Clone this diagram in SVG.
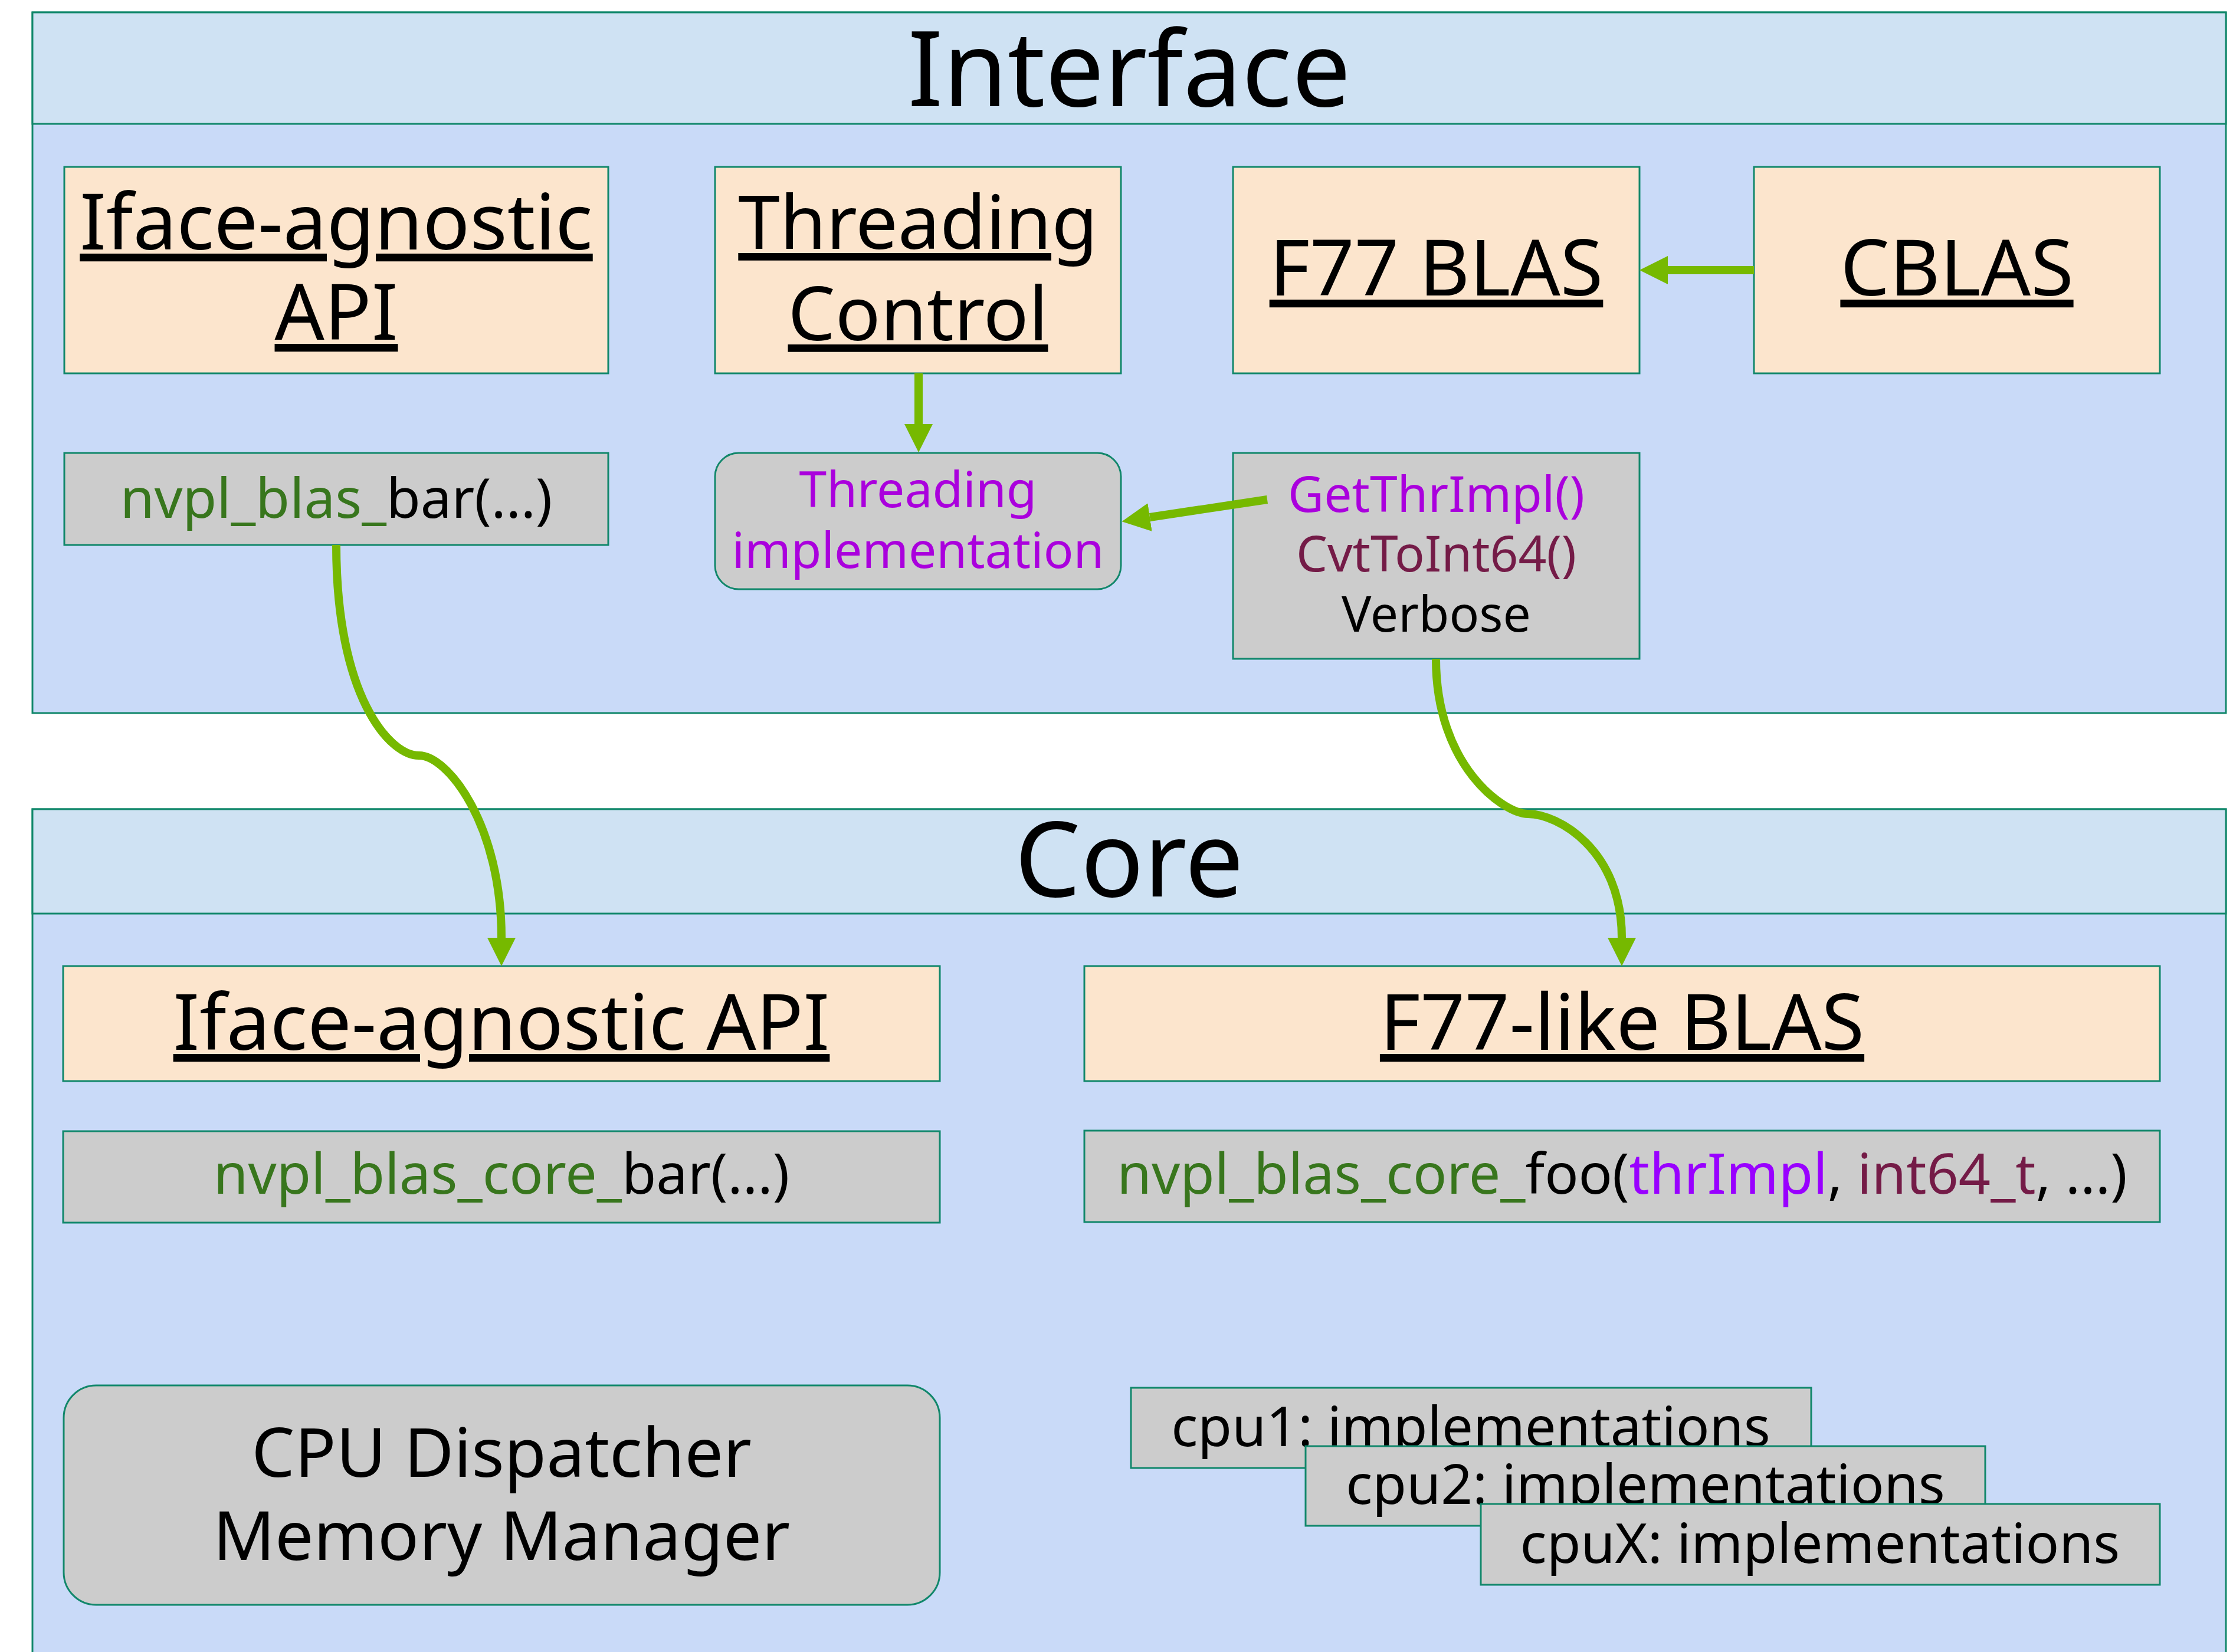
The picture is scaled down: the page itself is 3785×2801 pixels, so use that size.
<svg xmlns="http://www.w3.org/2000/svg" width="3785" height="2801" viewBox="0 0 3785 2801">
<style>
.panel{fill:#c9daf8;stroke:#11876b;stroke-width:3}
.phead{fill:#cfe2f3;stroke:#11876b;stroke-width:3}
.peach{fill:#fce5cd;stroke:#11876b;stroke-width:3}
.grey{fill:#cccccc;stroke:#11876b;stroke-width:3}
text{font-family:"Noto Sans","Liberation Sans",sans-serif;text-anchor:middle;fill:#000}
.title{font-size:177px}
.big{font-size:132px;text-decoration:underline}
.mid{font-size:94px}
.sm{font-size:84px}
.cpu{font-size:94px}
.disp{font-size:116px}
.g{fill:#38761d}
.p{fill:#aa00dd}
.v{fill:#9900ff}
.m{fill:#741b47}
.conn{fill:none;stroke:#76b900;stroke-width:14}
</style>
<defs>
<marker id="ah" markerUnits="userSpaceOnUse" markerWidth="48" markerHeight="48" refX="0" refY="24" orient="auto" viewBox="0 0 48 48">
<path d="M0,0 L48,24 L0,48 z" fill="#76b900"/>
</marker>
</defs>
<rect width="3785" height="2801" fill="#ffffff"/>
<g id="interface-panel">
<rect class="panel" x="55" y="21" width="3718" height="1188"/>
<rect class="phead" x="55" y="21" width="3718" height="189"/>
<text class="title" x="1914" y="180">Interface</text>
</g>
<g id="core-panel">
<rect class="panel" x="55" y="1372" width="3718" height="1460"/>
<rect class="phead" x="55" y="1372" width="3718" height="177"/>
<text class="title" x="1914" y="1520">Core</text>
</g>
<g id="iface-agnostic-api">
<rect class="peach" x="109" y="283" width="922" height="350"/>
<text class="big" x="570" y="423">Iface-agnostic</text>
<text class="big" x="570" y="576">API</text>
</g>
<g id="threading-control">
<rect class="peach" x="1212" y="283" width="688" height="350"/>
<text class="big" x="1556" y="422" style="font-size:127px">Threading</text>
<text class="big" x="1556" y="577" style="font-size:127px">Control</text>
</g>
<g id="f77-blas">
<rect class="peach" x="2090" y="283" width="689" height="350"/>
<text class="big" x="2434.5" y="501">F77 BLAS</text>
</g>
<g id="cblas">
<rect class="peach" x="2973" y="283" width="688" height="350"/>
<text class="big" x="3317" y="501">CBLAS</text>
</g>
<g id="nvpl-blas-bar">
<rect class="grey" x="109" y="768" width="922" height="156"/>
<text class="mid" x="570" y="878"><tspan class="g">nvpl_blas_</tspan>bar(...)</text>
</g>
<g id="threading-implementation">
<rect class="grey" x="1212" y="768" width="688" height="231" rx="40" ry="40"/>
<text class="sm p" x="1556" y="860">Threading</text>
<text class="sm p" x="1556" y="963">implementation</text>
</g>
<g id="getthrimpl">
<rect class="grey" x="2090" y="768" width="689" height="349"/>
<text class="sm p" x="2434.5" y="868">GetThrImpl()</text>
<text class="sm m" x="2434.5" y="969">CvtToInt64()</text>
<text class="sm" x="2434.5" y="1071">Verbose</text>
</g>
<g id="core-iface-agnostic-api">
<rect class="peach" x="107" y="1638" width="1486" height="195"/>
<text class="big" x="850" y="1780">Iface-agnostic API</text>
</g>
<g id="f77-like-blas">
<rect class="peach" x="1838" y="1638" width="1823" height="195"/>
<text class="big" x="2749.5" y="1780">F77-like BLAS</text>
</g>
<g id="nvpl-blas-core-bar">
<rect class="grey" x="107" y="1918" width="1486" height="155"/>
<text class="mid" x="850" y="2024" style="font-size:95px"><tspan class="g">nvpl_blas_core_</tspan>bar(...)</text>
</g>
<g id="nvpl-blas-core-foo">
<rect class="grey" x="1838" y="1917" width="1823" height="155"/>
<text class="mid" x="2749.5" y="2024" style="font-size:95px"><tspan class="g">nvpl_blas_core_</tspan>foo(<tspan class="v">thrImpl</tspan>, <tspan class="m">int64_t</tspan>, ...)</text>
</g>
<g id="cpu-dispatcher">
<rect class="grey" x="108" y="2349" width="1485" height="372" rx="55" ry="55"/>
<text class="disp" x="850" y="2504">CPU Dispatcher</text>
<text class="disp" x="850" y="2645">Memory Manager</text>
</g>
<g id="cpu1">
<rect class="grey" x="1917" y="2353" width="1153" height="136"/>
<text class="cpu" x="2493" y="2452">cpu1: implementations</text>
</g>
<g id="cpu2">
<rect class="grey" x="2213" y="2452" width="1152" height="135"/>
<text class="cpu" x="2789" y="2550">cpu2: implementations</text>
</g>
<g id="cpuX">
<rect class="grey" x="2510" y="2550" width="1151" height="137"/>
<text class="cpu" x="3085" y="2650">cpuX: implementations</text>
</g>
<g id="connectors">
<path class="conn" d="M2973,458 L2827,458" marker-end="url(#ah)"/>
<path class="conn" d="M1557,633 L1557,719" marker-end="url(#ah)"/>
<path class="conn" d="M2148,847 L1949,877" marker-end="url(#ah)"/>
<path class="conn" d="M570,924 C570,1180 660,1281 710,1281 C760,1281 850,1400 850,1590" marker-end="url(#ah)"/>
<path class="conn" d="M2434,1117 C2434,1300 2550,1380 2590,1380 C2640,1380 2749,1440 2749,1590" marker-end="url(#ah)"/>
</g>
</svg>
